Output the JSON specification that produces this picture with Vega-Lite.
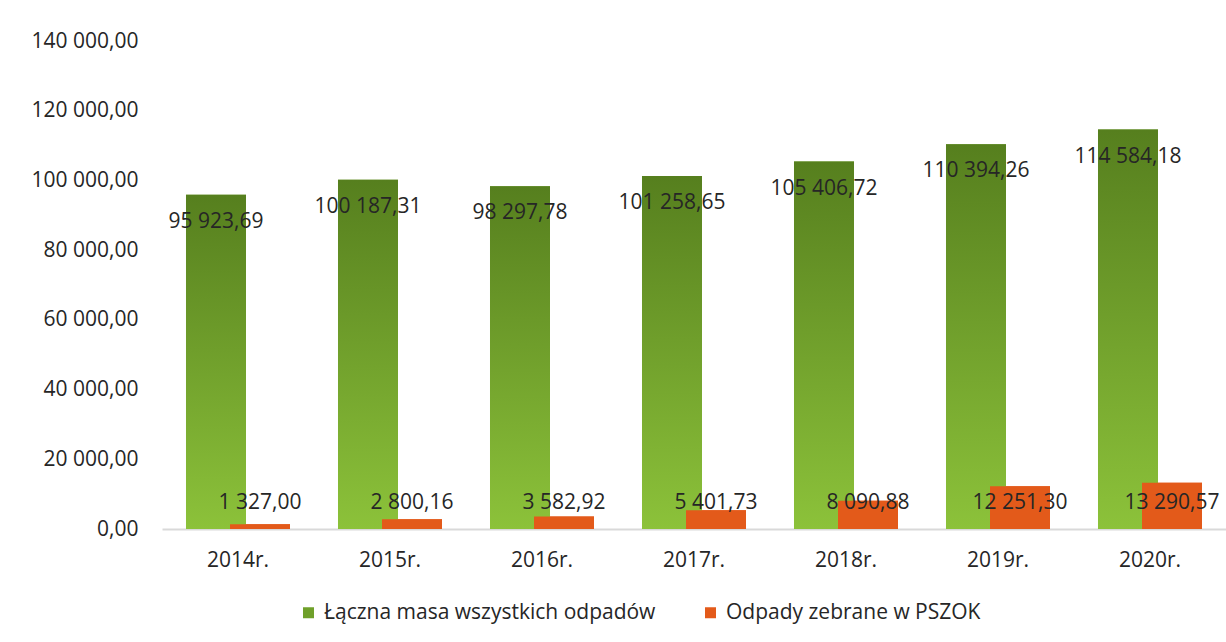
{
  "$schema": "https://vega.github.io/schema/vega-lite/v6.json",
  "width": 1064,
  "height": 488,
  "autosize": "none",
  "padding": {"left": 162, "top": 41, "right": 0, "bottom": 113},
  "background": "white",
  "config": {
    "locale": {"number": {"decimal": ",", "thousands": " ", "grouping": [3], "currency": ["", ""]}},
    "view": {"stroke": null},
    "font": "Open Sans",
    "axis": {"labelFont": "Open Sans", "labelColor": "#262626", "labelFontSize": 21}
  },
  "data": {
    "values": [
      {"rok": "2014r.", "seria": "Łączna masa wszystkich odpadów", "masa": 95923.69},
      {"rok": "2015r.", "seria": "Łączna masa wszystkich odpadów", "masa": 100187.31},
      {"rok": "2016r.", "seria": "Łączna masa wszystkich odpadów", "masa": 98297.78},
      {"rok": "2017r.", "seria": "Łączna masa wszystkich odpadów", "masa": 101258.65},
      {"rok": "2018r.", "seria": "Łączna masa wszystkich odpadów", "masa": 105406.72},
      {"rok": "2019r.", "seria": "Łączna masa wszystkich odpadów", "masa": 110394.26},
      {"rok": "2020r.", "seria": "Łączna masa wszystkich odpadów", "masa": 114584.18},
      {"rok": "2014r.", "seria": "Odpady zebrane w PSZOK", "masa": 1327.00},
      {"rok": "2015r.", "seria": "Odpady zebrane w PSZOK", "masa": 2800.16},
      {"rok": "2016r.", "seria": "Odpady zebrane w PSZOK", "masa": 3582.92},
      {"rok": "2017r.", "seria": "Odpady zebrane w PSZOK", "masa": 5401.73},
      {"rok": "2018r.", "seria": "Odpady zebrane w PSZOK", "masa": 8090.88},
      {"rok": "2019r.", "seria": "Odpady zebrane w PSZOK", "masa": 12251.30},
      {"rok": "2020r.", "seria": "Odpady zebrane w PSZOK", "masa": 13290.57}
    ]
  },
  "encoding": {
    "x": {
      "field": "rok", "type": "nominal", "sort": null,
      "scale": {"paddingInner": 0, "paddingOuter": 0},
      "axis": {"title": null, "labelAngle": 0, "ticks": false, "domainColor": "#d9d9d9", "domainWidth": 2, "labelPadding": 20}
    },
    "xOffset": {
      "field": "seria", "type": "nominal",
      "scale": {"domain": ["Łączna masa wszystkich odpadów", "Odpady zebrane w PSZOK"], "paddingInner": 0, "paddingOuter": 0.727}
    },
    "y": {
      "field": "masa", "type": "quantitative",
      "scale": {"domain": [0, 140000], "nice": false},
      "axis": {"title": null, "format": ",.2f", "values": [0, 20000, 40000, 60000, 80000, 100000, 120000, 140000], "grid": false, "domain": false, "ticks": false, "labelPadding": 24}
    }
  },
  "layer": [
    {
      "mark": {"type": "bar", "size": 60},
      "encoding": {
        "color": {
          "field": "seria", "type": "nominal",
          "scale": {"domain": ["Łączna masa wszystkich odpadów", "Odpady zebrane w PSZOK"], "range": ["#6fa02a", "#e35a1a"]},
          "legend": {
            "title": null, "orient": "none", "direction": "horizontal", "legendX": 136, "legendY": 561,
            "symbolType": "square", "symbolSize": 121, "labelFontSize": 21, "labelFont": "Open Sans", "labelColor": "#262626",
            "labelLimit": 0, "columnPadding": 44, "symbolOffset": 0, "labelOffset": 5
          }
        }
      }
    },
    {
      "transform": [{"filter": "datum.seria === 'Łączna masa wszystkich odpadów'"}],
      "mark": {
        "type": "bar", "size": 60,
        "fill": {"gradient": "linear", "x1": 0, "y1": 0, "x2": 0, "y2": 1,
          "stops": [{"offset": 0, "color": "#567f1e"}, {"offset": 1, "color": "#8cc23a"}]}
      }
    },
    {
      "transform": [{"filter": "datum.seria === 'Odpady zebrane w PSZOK'"}],
      "mark": {"type": "bar", "size": 60, "fill": "#e35a1a"}
    },
    {
      "transform": [{"filter": "datum.seria === 'Łączna masa wszystkich odpadów'"}],
      "mark": {"type": "text", "baseline": "middle", "align": "center", "dy": 27, "fontSize": 21, "color": "#262626", "font": "Open Sans"},
      "encoding": {"text": {"field": "masa", "type": "quantitative", "format": ",.2f"}}
    },
    {
      "transform": [{"filter": "datum.seria === 'Odpady zebrane w PSZOK'"}],
      "mark": {"type": "text", "baseline": "middle", "align": "center", "fontSize": 21, "color": "#262626", "font": "Open Sans"},
      "encoding": {
        "y": {"datum": 7400},
        "text": {"field": "masa", "type": "quantitative", "format": ",.2f"}
      }
    }
  ]
}
